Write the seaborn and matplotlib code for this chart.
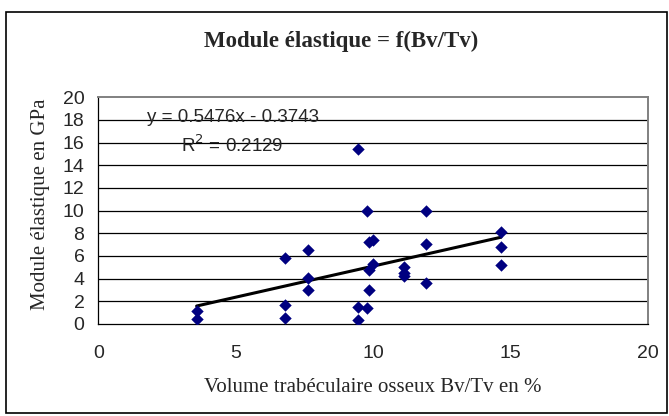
import numpy as np
import pandas as pd
import matplotlib
matplotlib.use("Agg")
import matplotlib.pyplot as plt
import seaborn as sns

# Bone volume fraction (Bv/Tv, %) and elastic modulus (GPa)
bv_tv = [3.58, 3.58,
         6.80, 6.80, 6.80,
         7.62, 7.62, 7.62,
         9.47, 9.47, 9.47,
         9.77, 9.77,
         9.87, 9.87, 9.87,
         10.01, 10.01,
         11.14, 11.14, 11.14,
         11.92, 11.92, 11.92,
         14.66, 14.66, 14.66]
modulus = [1.12, 0.44,
           5.85, 1.65, 0.56,
           6.50, 4.09, 3.03,
           15.41, 1.53, 0.35,
           10.00, 1.38,
           3.00, 4.76, 7.26,
           7.41, 5.29,
           5.00, 4.53, 4.26,
           10.00, 7.06, 3.59,
           8.15, 6.82, 5.21]

# Linear trend coefficients and R²
slope = 0.5476
intercept = -0.3743
r_squared = 0.2129

x_ticks = [0, 5, 10, 15, 20]
y_ticks = [0, 2, 4, 6, 8, 10, 12, 14, 16, 18, 20]

title = "Module élastique = f(Bv/Tv)"
x_label = "Volume trabéculaire osseux Bv/Tv en %"
y_label = "Module élastique en GPa"

sns.set_style("white")
plt.rcParams["font.family"] = ["Liberation Sans", "DejaVu Sans"]

df = pd.DataFrame({"bv": bv_tv, "mod": modulus})

W, H = 669, 416
fig = plt.figure(figsize=(W / 100, H / 100), dpi=100)
ax = fig.add_axes([98.3 / W, 1 - 324 / H, (647.6 - 98.3) / W, (324 - 97.3) / H])

# Outer chart frame
fig.patches.append(plt.Rectangle((6 / W, 3 / H), 661 / W, 401 / H,
                                 transform=fig.transFigure, fill=False,
                                 edgecolor="black", linewidth=1.2))

# Horizontal gridlines
for yv in y_ticks[1:-1]:
    ax.axhline(yv, color="black", linewidth=0.9, zorder=1)

sns.scatterplot(data=df, x="bv", y="mod", marker="D", s=40, color="#000080",
                edgecolor="#000080", linewidth=0, ax=ax, zorder=3)

xs = np.array([min(bv_tv), max(bv_tv)])
sns.lineplot(x=xs, y=slope * xs + intercept, color="black", linewidth=2.2,
             ax=ax, zorder=2)

ax.set_xlim(0, 20)
ax.set_ylim(0, 20)
ax.set_xticks(x_ticks)
ax.set_yticks(y_ticks)
ax.tick_params(axis="both", direction="out", length=4, width=0.9,
               labelsize=14, color="black")
ax.tick_params(axis="x", pad=11)
ax.tick_params(axis="y", pad=6)

for side in ["left", "bottom"]:
    ax.spines[side].set_color("black")
    ax.spines[side].set_linewidth(0.9)
for side in ["top", "right"]:
    ax.spines[side].set_color("#808080")
    ax.spines[side].set_linewidth(1.4)

ax.set_xlabel(x_label, fontsize=15, family=["Liberation Serif"], va="center")
ax.set_ylabel(y_label, fontsize=15, family=["Liberation Serif"], va="center")
ax.xaxis.set_label_coords(0.5, (324 - 387) / 226.7)
ax.yaxis.set_label_coords((41 - 98.3) / 549.3, 0.53)

ax.text(4.89, 18.18, f"y = {slope}x - {abs(intercept)}", ha="center", va="center",
        fontsize=13.5, zorder=4)
ax.text(4.89, 15.8, f"R$^2$ = {r_squared}", ha="center", va="center",
        fontsize=13.5, zorder=4)

fig.text(0.51, 1 - 41 / H, title, ha="center", va="center", fontsize=16.5,
         fontweight="bold", family=["Liberation Serif"])

fig.savefig("out.png", dpi=100)
